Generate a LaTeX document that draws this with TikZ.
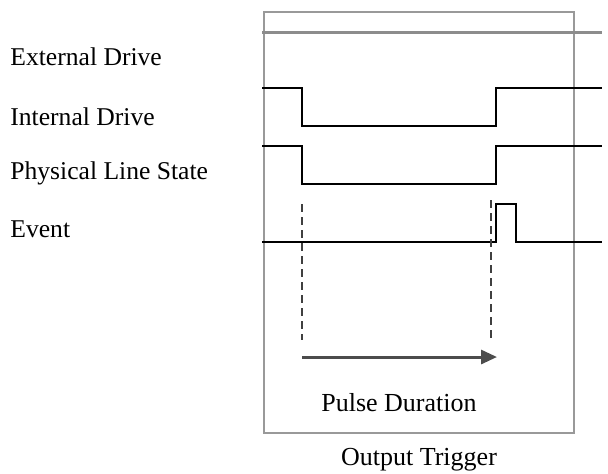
\documentclass[tikz,border=0pt]{standalone}
\usepackage{fontspec}
\setmainfont{Liberation Serif}
\usetikzlibrary{arrows.meta}

\begin{document}
\begin{tikzpicture}[x=0.5pt,y=-0.5pt]
			\useasboundingbox (0,0) rectangle (608,473);
			\draw [draw=black!40,line width=0.8pt] (264,12) rectangle (574,433);

			\begin{scope}[every node/.style={anchor=west,inner sep=0pt,font=\fontsize{12.8}{14}\selectfont}]
				\node (ext) at (10,57) {External Drive};
				\node (int) at (10,117) {Internal Drive};
				\node (phy) at (10,173) {Physical Line State};
				\node (evt) at (10,229) {Event};
			\end{scope}

			\begin{scope}[every path/.style={line width=1pt,line join=miter}]
				\draw [draw=black!45,line width=1.5pt] (262,32) -- (602,32);
				\draw (262,88) -- (302,88) -- (302,126) -- (496,126) -- (496,88) -- (602,88);
				\draw (262,146) -- (302,146) -- (302,184) -- (496,184) -- (496,146) -- (602,146);
				\draw (262,242) -- (496,242) -- (496,204) -- (516,204) -- (516,242) -- (602,242);
			\end{scope}

			\begin{scope}[every path/.style={draw=black!75,line width=0.9pt,dash pattern=on 4pt off 2.5pt}]
				\draw (302,204) -- (302,340);
				\draw (491,200) -- (491,339);
			\end{scope}

			\coordinate (start) at (302,357);
			\coordinate (stop) at (497,357);
			\draw [-{Triangle[length=8pt,width=7pt]},draw=black!70,fill=black!70,line width=1.5pt] (start) -- (stop);

			\begin{scope}[every node/.style={inner sep=0pt,font=\fontsize{13}{15}\selectfont}]
				\node (pulse) at (399,403) {Pulse Duration};
				\node (out) at (419,460) {Output Trigger};
			\end{scope}
		\end{tikzpicture}
\end{document}
